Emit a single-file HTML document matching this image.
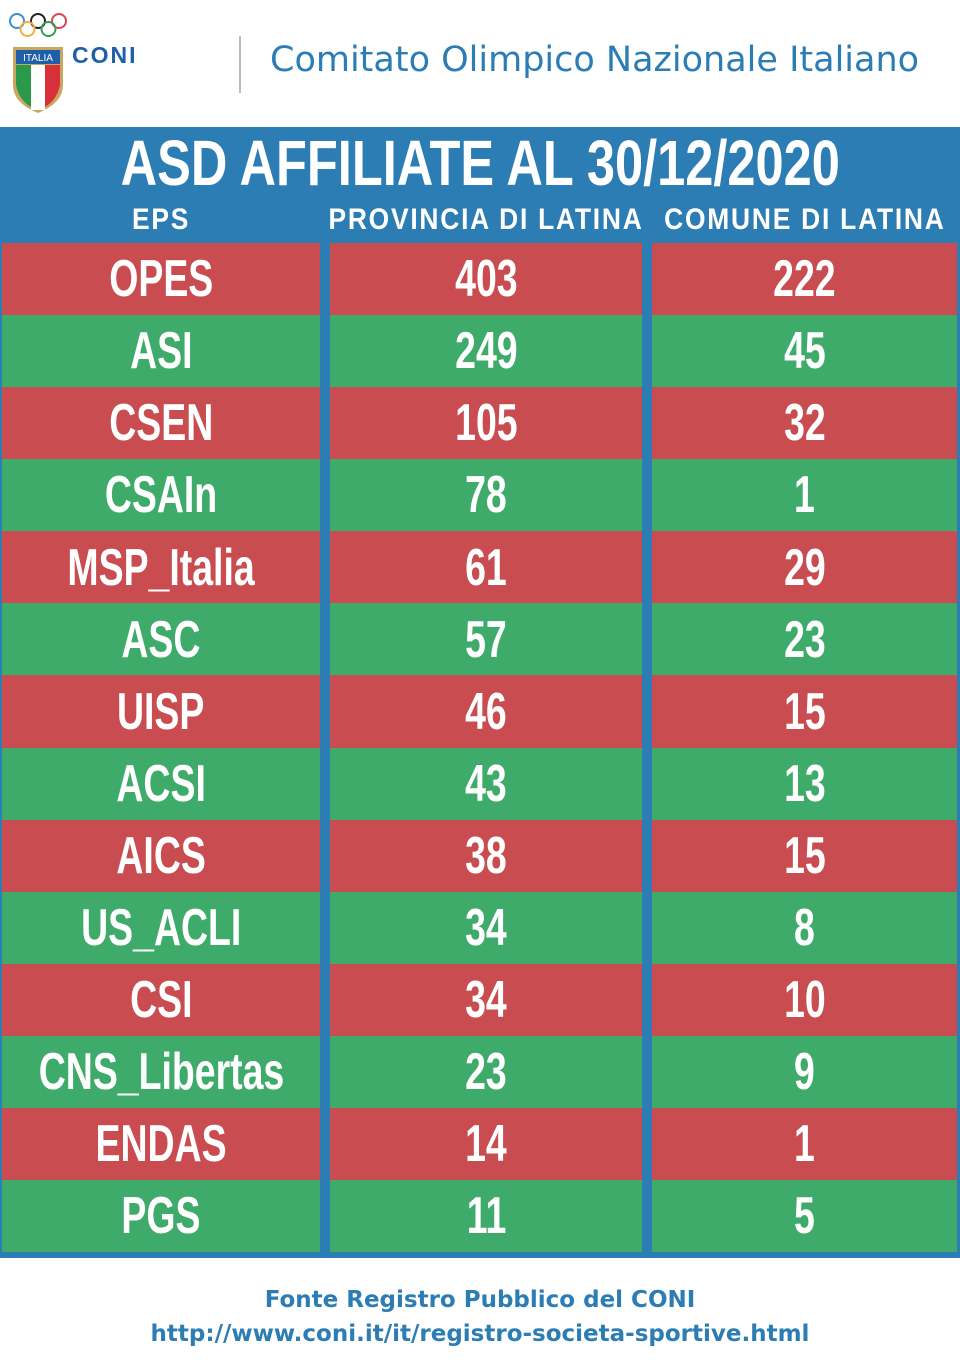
<!DOCTYPE html>
<html><head><meta charset="utf-8"><style>
body{margin:0;width:960px;height:1362px;background:#fff;position:relative;overflow:hidden;font-family:"Liberation Sans",sans-serif}
.abs{position:absolute}
.cell{position:absolute;display:flex;align-items:center;justify-content:center;color:#fff;font-weight:bold;font-size:52px;overflow:visible;white-space:nowrap}
.cell span{display:inline-block;transform:scaleX(0.72)}
</style></head><body>
<div class="abs" style="left:0;top:0;width:960px;height:127px;background:#fff">
<svg class="abs" style="left:8px;top:12px" width="60" height="30" viewBox="0 0 60 30">
<circle cx="9" cy="9" r="7" fill="none" stroke="#3a8fd0" stroke-width="2"/><circle cx="30" cy="9" r="7" fill="none" stroke="#222" stroke-width="2"/><circle cx="51" cy="9" r="7" fill="none" stroke="#e04050" stroke-width="2"/><circle cx="19.5" cy="17" r="7" fill="none" stroke="#f0b040" stroke-width="2"/><circle cx="40.5" cy="17" r="7" fill="none" stroke="#30a050" stroke-width="2"/></svg>
<svg class="abs" style="left:11px;top:45px" width="54" height="70" viewBox="0 0 54 70">
<path d="M2 2H52V40Q52 58 27 68Q2 58 2 40Z" fill="#c8a860"/>
<rect x="5" y="5" width="44" height="14" fill="#1f5fa8"/>
<text x="27" y="16" font-size="10" fill="#fff" text-anchor="middle" font-family="Liberation Sans">ITALIA</text>
<path d="M5 20H20V62Q8 55 5 40Z" fill="#2a9a4a"/><rect x="20" y="20" width="14" height="45" fill="#fff"/><path d="M34 20H49V40Q46 55 34 62Z" fill="#d8303a"/></svg>
<div class="abs" style="left:72px;top:42px;font-size:23px;font-weight:bold;color:#1f5fa8;letter-spacing:2px">CONI</div>
<div class="abs" style="left:239px;top:36px;width:2px;height:57px;background:#bbb"></div>
<div class="abs" style="left:270px;top:40px;font-family:'DejaVu Sans',sans-serif;font-size:35px;color:#2d7db5;white-space:nowrap">Comitato Olimpico Nazionale Italiano</div>
</div>
<div class="abs" style="left:0;top:127px;width:960px;height:1131px;background:#2d7db5"></div>
<div class="abs" style="left:0;top:128px;width:960px;height:70px;display:flex;justify-content:center;align-items:center;color:#fff;font-weight:bold;font-size:64px;white-space:nowrap"><span style="display:inline-block;transform:scaleX(0.79)">ASD AFFILIATE AL 30/12/2020</span></div>
<div id="hdr"></div>
<div id="rows"></div>
<div class="abs" style="left:0;top:1287px;width:960px;text-align:center;font-family:'DejaVu Sans',sans-serif;font-size:23px;font-weight:bold;color:#2d7db5;white-space:nowrap">Fonte Registro Pubblico del CONI</div>
<div class="abs" style="left:0;top:1321px;width:960px;text-align:center;font-family:'DejaVu Sans',sans-serif;font-size:23px;font-weight:bold;color:#2d7db5;white-space:nowrap">http://www.coni.it/it/registro-societa-sportive.html</div>
<script>
const headers=["EPS","PROVINCIA DI LATINA","COMUNE DI LATINA"];
const categories=["OPES","ASI","CSEN","CSAIn","MSP_Italia","ASC","UISP","ACSI","AICS","US_ACLI","CSI","CNS_Libertas","ENDAS","PGS"];
const provincia=[403,249,105,78,61,57,46,43,38,34,34,23,14,11];
const comune=[222,45,32,1,29,23,15,13,15,8,10,9,1,5];
const cols=[[2,318],[330,312],[652,305]];
const top0=243,rowH=(1252-243)/categories.length;
const hdr=document.getElementById('hdr');
headers.forEach((h,i)=>{const d=document.createElement('div');


d.className='cell';d.style.left=cols[i][0]+'px';d.style.width=cols[i][1]+'px';d.style.top='200px';d.style.height='40px';d.style.fontSize='30px';
d.innerHTML='<span style="transform:scaleX(0.88);letter-spacing:2px">'+h+'</span>';hdr.appendChild(d);});
const rows=document.getElementById('rows');
categories.forEach((c,r)=>{const vals=[c,provincia[r],comune[r]];
vals.forEach((v,i)=>{const d=document.createElement('div');


d.className='cell';d.style.left=cols[i][0]+'px';d.style.width=cols[i][1]+'px';
d.style.top=(top0+r*rowH)+'px';d.style.height=(rowH+0.5)+'px';
d.style.background=r%2?'#3fab6b':'#c94d50';
d.innerHTML='<span>'+v+'</span>';rows.appendChild(d);});});
</script>
</body></html>
